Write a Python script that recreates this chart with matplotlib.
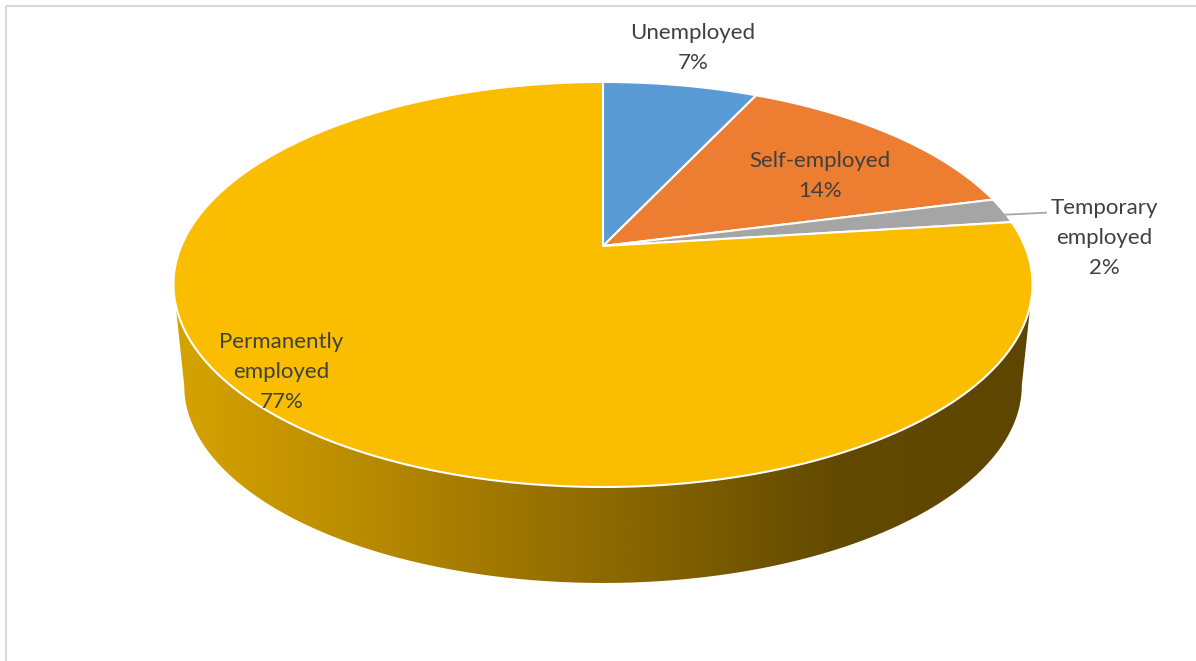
import numpy as np
import matplotlib.pyplot as plt
from matplotlib.patches import Polygon, Rectangle
from matplotlib.colors import LinearSegmentedColormap

categories = ['Unemployed', 'Self-employed', 'Temporary employed', 'Permanently employed']
values = [7, 14, 2, 77]
colors = ['#5B9BD5', '#ED7D31', '#A5A5A5', '#FBBD00']

# perspective pie geometry (pixel space)
CX, CY = 603, 246
A, B, K = 421.7, 195.2, -0.19
S, DEPTH = 0.975, 102


def proj(r, th, bottom=False):
    X = r * np.sin(th)
    Y = -r * np.cos(th)
    w = 1 + K * Y
    u = CX + A * X / w
    v = CY + B * Y / w
    if bottom:
        u = CX + S * (u - CX)
        v = CY + DEPTH + S * (v - CY)
    return u, v


fig = plt.figure(figsize=(11.96, 6.61), dpi=100)
ax = fig.add_axes([0, 0, 1, 1])
ax.set_xlim(0, 1196)
ax.set_ylim(661, 0)
ax.axis('off')

ax.add_patch(Rectangle((6, 6), 1300, 700, fill=False, edgecolor='#D9D9D9', lw=1.5))

total = sum(values)
bounds = np.concatenate([[0], np.cumsum(values)]) / total * 2 * np.pi

# side wall (only the front of the last slice is visible)
th_side = np.linspace(np.radians(101), np.radians(259), 200)
tu, tv = proj(1, th_side)
bu, bv = proj(1, th_side[::-1], bottom=True)
side_pts = np.column_stack([np.concatenate([tu, bu]), np.concatenate([tv, bv])])
side = Polygon(side_pts, closed=True, facecolor='none', edgecolor='none')
ax.add_patch(side)
cmap = LinearSegmentedColormap.from_list('side', [
    (0.0, '#D6A400'), (0.15, '#C39300'), (0.38, '#A07800'),
    (0.61, '#7C5D00'), (0.78, '#614900'), (1.0, '#5E4600')])
grad = np.linspace(0, 1, 400).reshape(1, -1)
im = ax.imshow(grad, cmap=cmap, extent=[170, 1035, 620, 270], aspect='auto',
               interpolation='bilinear', zorder=1)
im.set_clip_path(side)

# top face
for i, (name, val) in enumerate(zip(categories, values)):
    th = np.linspace(bounds[i], bounds[i + 1], 200)
    u, v = proj(1, th)
    pts = np.column_stack([np.concatenate([[CX], u]), np.concatenate([[CY], v])])
    ax.add_patch(Polygon(pts, closed=True, facecolor=colors[i], edgecolor='white',
                         lw=1.5, joinstyle='round', zorder=2))

# labels
font = dict(family='Lato', fontsize=16, color='#404040', ha='center', linespacing=1.62, zorder=5)
mids = (bounds[:-1] + bounds[1:]) / 2
labels = [f"{c.replace(' ', chr(10))}\n{v}%" for c, v in zip(categories, values)]

u, v = proj(1.29, mids[0])
ax.text(u - 6, v, labels[0], va='center', **font)
u, v = proj(0.68, mids[1])
ax.text(u + 13, v + 8, labels[1], va='center', **font)
u, v = proj(0.85, mids[3])
ax.text(u - 52, v - 16, labels[3], va='center', **font)

u, v = proj(1, mids[2])
ax.plot([u + 2, u + 43], [v + 4, v + 2], color='#A6A6A6', lw=1.3, zorder=4)
ax.text(u + 101, v + 27, labels[2], va='center', **font)

fig.savefig('out.png', dpi=100)
